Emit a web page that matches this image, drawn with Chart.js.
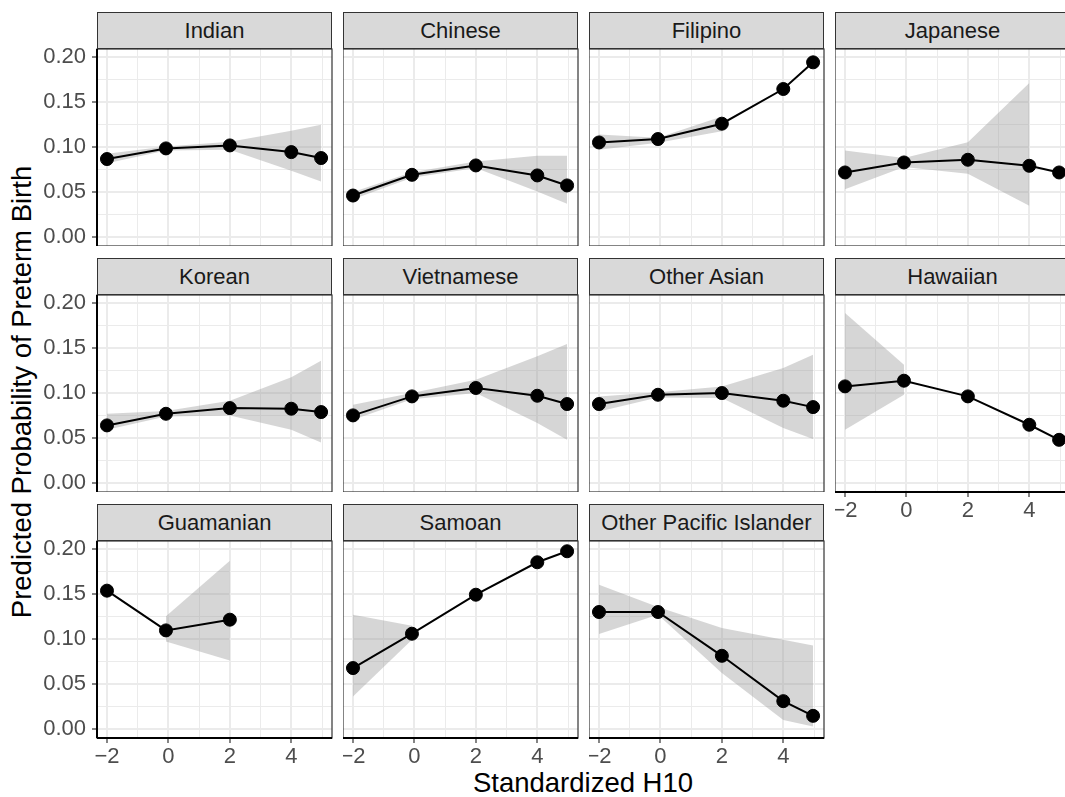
<!DOCTYPE html>
<html>
<head>
<meta charset="utf-8">
<script src="https://cdn.jsdelivr.net/npm/chart.js@4.4.1/dist/chart.umd.min.js"></script>
<style>
  body { margin: 0; background: #fff; }
  #fig { position: relative; width: 1065px; height: 797px; overflow: hidden; background: #fff;
         font-family: 'Liberation Sans', Arial, sans-serif; }
  .strip { position: absolute; box-sizing: border-box; border: 1px solid #333; background: #d9d9d9;
           color: #1a1a1a; font-size: 22px; text-align: center; line-height: 35px; white-space: nowrap; }
  canvas { position: absolute; }
  .title { position: absolute; white-space: nowrap; font-size: 27.5px; color: #000;
           transform: translate(-50%, -50%); }
</style>
</head>
<body>
<div id="fig">
  <div class="title" style="left:583px; top:783px;">Standardized H10</div>
  <div class="title" style="left:22px; top:392px; transform: translate(-50%, -50%) rotate(-90deg);">Predicted Probability of Preterm Birth</div>
</div>
<script>
/* Predicted probability of preterm birth by standardized H10, one panel per group */

const groups = ['Indian', 'Chinese', 'Filipino', 'Japanese', 'Korean', 'Vietnamese',
  'Other Asian', 'Hawaiian', 'Guamanian', 'Samoan', 'Other Pacific Islander'];

const h10 = [-2, -0.08, 2, 4, 4.97];

const predicted = [
  [0.0867, 0.0985, 0.1018, 0.0944, 0.0878],
  [0.0462, 0.0692, 0.0796, 0.0685, 0.0574],
  [0.1051, 0.1089, 0.1259, 0.1644, 0.1940],
  [0.0718, 0.0829, 0.0859, 0.0792, 0.0718],
  [0.0641, 0.0770, 0.0833, 0.0826, 0.0789],
  [0.0752, 0.0963, 0.1056, 0.0970, 0.0878],
  [0.0878, 0.0981, 0.1000, 0.0915, 0.0844],
  [0.1074, 0.1137, 0.0963, 0.0648, 0.0481],
  [0.1537, 0.1096, 0.1215],
  [0.0678, 0.1059, 0.1492, 0.1852, 0.1974],
  [0.1300, 0.1300, 0.0814, 0.0311, 0.0148]
];

// confidence band: x positions, lower and upper bounds
const ribbonX = [
  [-2, -0.08, 2, 4, 4.97],
  [-2, -0.08, 2, 4, 4.97],
  [-2, -0.08, 2],
  [-2, -0.08, 2, 4],
  [-2, -0.08, 2, 4, 4.97],
  [-2, -0.08, 2, 4, 4.97],
  [-2, -0.08, 2, 4, 4.97],
  [-2, -0.08],
  [-0.08, 2],
  [-2, -0.08],
  [-2, -0.08, 2, 4, 4.97]
];
const ribbonLow = [
  [0.0820, 0.0963, 0.0970, 0.0737, 0.0618],
  [0.0420, 0.0660, 0.0767, 0.0507, 0.0370],
  [0.0970, 0.1048, 0.1174],
  [0.0533, 0.0780, 0.0704, 0.0348],
  [0.0593, 0.0740, 0.0752, 0.0593, 0.0452],
  [0.0704, 0.0930, 0.1000, 0.0667, 0.0481],
  [0.0796, 0.0950, 0.0944, 0.0611, 0.0489],
  [0.0593, 0.0981],
  [0.0974, 0.0763],
  [0.0363, 0.0993],
  [0.1055, 0.1270, 0.0622, 0.0103, 0.0029]
];
const ribbonHigh = [
  [0.0926, 0.1007, 0.1060, 0.1180, 0.1248],
  [0.0500, 0.0720, 0.0840, 0.0904, 0.0904],
  [0.1140, 0.1103, 0.1340],
  [0.0963, 0.0878, 0.1052, 0.1711],
  [0.0770, 0.0800, 0.0915, 0.1174, 0.1360],
  [0.0870, 0.1000, 0.1148, 0.1407, 0.1544],
  [0.0963, 0.1010, 0.1074, 0.1278, 0.1426],
  [0.1889, 0.1315],
  [0.1252, 0.1870],
  [0.1270, 0.1148],
  [0.1603, 0.1355, 0.1122, 0.0992, 0.0929]
];

const xTickValues = [-2, 0, 2, 4];
const xTickLabels = ['\u22122', '0', '2', '4'];
const xMinorValues = [-1, 1, 3, 5];
const yTickValues = [0, 0.05, 0.10, 0.15, 0.20];
const yTickLabels = ['0.00', '0.05', '0.10', '0.15', '0.20'];
const yMinorValues = [0.025, 0.075, 0.125, 0.175];

const FONT = "'Liberation Sans', Arial, sans-serif";
const isMajor = (list, v) => list.some(t => Math.abs(t - v) < 1e-9);

const panelFrame = {
  id: 'panelFrame',
  afterDraw(chart, args, opts) {
    const a = chart.chartArea, c = chart.ctx;
    c.save();
    c.strokeStyle = '#333333';
    c.lineWidth = 1.2;
    c.strokeRect(a.left, a.top, a.right - a.left, a.bottom - a.top);
    c.strokeStyle = '#000000';
    c.lineWidth = 2;
    c.beginPath();
    if (opts.left) { c.moveTo(a.left, a.top); c.lineTo(a.left, a.bottom); }
    if (opts.bottom) { c.moveTo(a.left, a.bottom); c.lineTo(a.right, a.bottom); }
    c.stroke();
    c.restore();
  }
};

const fig = document.getElementById('fig');

groups.forEach((name, i) => {
  const col = i % 4, row = Math.floor(i / 4);
  const left = 97 + col * 246, stripTop = 12 + row * 246, top = stripTop + 37;
  const W = 235, H = 197;
  const showY = col === 0, showX = i >= 7;
  const padL = showY ? 70 : 0, padB = showX ? 34 : 0;

  const strip = document.createElement('div');
  strip.className = 'strip';
  strip.style.cssText = `left:${left}px; top:${stripTop}px; width:${W}px; height:37px;`;
  strip.textContent = name;
  fig.appendChild(strip);

  const cv = document.createElement('canvas');
  cv.width = W + padL + 1;
  cv.height = H + padB + 1;
  cv.style.left = (left - padL) + 'px';
  cv.style.top = (top - 1) + 'px';
  fig.appendChild(cv);

  const line = predicted[i].map((y, k) => ({ x: h10[k], y }));
  const lo = ribbonX[i].map((x, k) => ({ x, y: ribbonLow[i][k] }));
  const hi = ribbonX[i].map((x, k) => ({ x, y: ribbonHigh[i][k] }));

  new Chart(cv, {
    type: 'line',
    data: {
      datasets: [
        { data: line, order: 0, borderColor: '#000', borderWidth: 2, pointRadius: 6.5, pointBorderWidth: 1,
          pointBackgroundColor: '#000', pointBorderColor: '#000', fill: false, tension: 0 },
        { data: lo, order: 1, borderWidth: 0, pointRadius: 0, fill: false, borderColor: 'rgba(0,0,0,0)' },
        { data: hi, order: 2, borderWidth: 0, pointRadius: 0, fill: '-1', borderColor: 'rgba(0,0,0,0)',
          backgroundColor: 'rgba(153,153,153,0.4)' }
      ]
    },
    options: {
      responsive: false,
      animation: false,
      layout: { autoPadding: false, padding: { top: 1, right: 1, left: 0, bottom: 0 } },
      plugins: { legend: { display: false }, tooltip: { enabled: false },
                 panelFrame: { left: showY, bottom: showX } },
      scales: {
        x: {
          type: 'linear', min: -2.325, max: 5.325,
          afterBuildTicks: s => { s.ticks = xTickValues.concat(xMinorValues).sort((a, b) => a - b).map(v => ({ value: v })); },
          afterFit: s => { s.height = padB; s.paddingLeft = 0; s.paddingRight = 0; s.paddingTop = 0; s.paddingBottom = 0; },
          border: { display: false },
          grid: {
            color: '#ebebeb',
            lineWidth: c => isMajor(xTickValues, c.tick.value) ? 2 : 1,
            drawTicks: showX, tickLength: 5, tickWidth: 1.2,
            tickColor: c => isMajor(xTickValues, c.tick.value) ? '#333333' : 'rgba(0,0,0,0)'
          },
          ticks: {
            display: showX, autoSkip: false, maxRotation: 0, padding: 1,
            color: '#4d4d4d', font: { family: FONT, size: 22 },
            callback: v => { const k = xTickValues.findIndex(t => Math.abs(t - v) < 1e-9); return k >= 0 ? xTickLabels[k] : ''; }
          }
        },
        y: {
          type: 'linear', min: -0.0098, max: 0.2088,
          afterBuildTicks: s => { s.ticks = yTickValues.concat(yMinorValues).sort((a, b) => a - b).map(v => ({ value: v })); },
          afterFit: s => { s.width = padL; s.paddingLeft = 0; s.paddingRight = 0; s.paddingTop = 0; s.paddingBottom = 0; },
          border: { display: false },
          grid: {
            color: '#ebebeb',
            lineWidth: c => isMajor(yTickValues, c.tick.value) ? 2 : 1,
            drawTicks: showY, tickLength: 5, tickWidth: 1.2,
            tickColor: c => isMajor(yTickValues, c.tick.value) ? '#333333' : 'rgba(0,0,0,0)'
          },
          ticks: {
            display: showY, autoSkip: false, padding: 6,
            color: '#4d4d4d', font: { family: FONT, size: 22 },
            callback: v => { const k = yTickValues.findIndex(t => Math.abs(t - v) < 1e-9); return k >= 0 ? yTickLabels[k] : ''; }
          }
        }
      }
    },
    plugins: [panelFrame]
  });
});
</script>
</body>
</html>
